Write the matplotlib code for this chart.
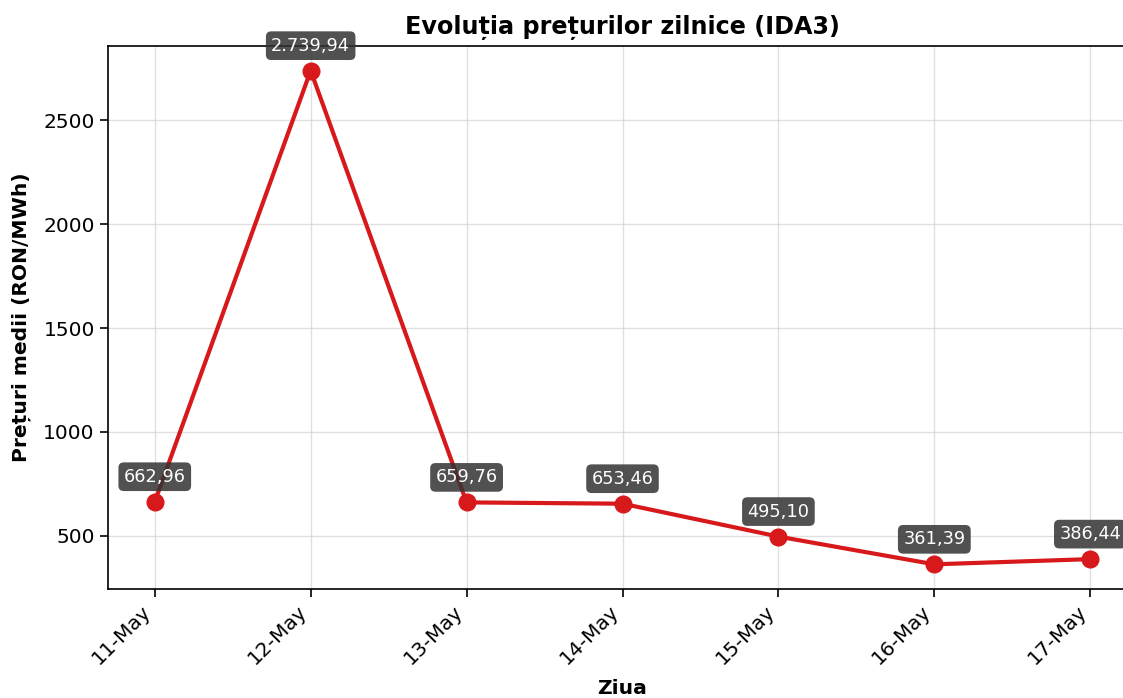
import numpy as np
import matplotlib.pyplot as plt

days = ['11-May', '12-May', '13-May', '14-May', '15-May', '16-May', '17-May']
prices = [662.96, 2739.94, 659.76, 653.46, 495.10, 361.39, 386.44]
labels = ['662,96', '2.739,94', '659,76', '653,46', '495,10', '361,39', '386,44']

W, H = 1123, 698
fig = plt.figure(figsize=(W / 100, H / 100), dpi=100)
# axes extends a bit past the right edge, like the reference crop
ax = fig.add_axes([108 / W, 1 - 589 / H, (1137 - 108) / W, (589 - 46) / H])

x = np.arange(len(days))
ax.plot(x, prices, color='#d7191c', linewidth=3, marker='o', markersize=12, zorder=3)

for xi, yi, lab in zip(x, prices, labels):
    ax.annotate(lab, (xi, yi), xytext=(0, 25), textcoords='offset pixels',
                ha='center', va='center', color='white', fontsize=12.8,
                bbox=dict(boxstyle='round,pad=0.3', facecolor='#333333', alpha=0.85,
                          edgecolor='none'), zorder=4)

ax.set_xticks(x)
ax.set_xticklabels(days, rotation=45, ha='right')
ax.tick_params(labelsize=14.5, length=6, width=1.2)
ax.grid(True, color='#cccccc', alpha=0.6, linewidth=1)
for s in ax.spines.values():
    s.set_linewidth(1.2)

ax.set_title('Evoluția prețurilor zilnice (IDA3)', fontsize=17.2, fontweight='bold', pad=9)
ax.set_xlabel('Ziua', fontsize=14.6, fontweight='bold', labelpad=7.5)
ax.set_ylabel('Prețuri medii (RON/MWh)', fontsize=14.6, fontweight='bold', labelpad=8.5)

fig.savefig('out.png', dpi=100)
